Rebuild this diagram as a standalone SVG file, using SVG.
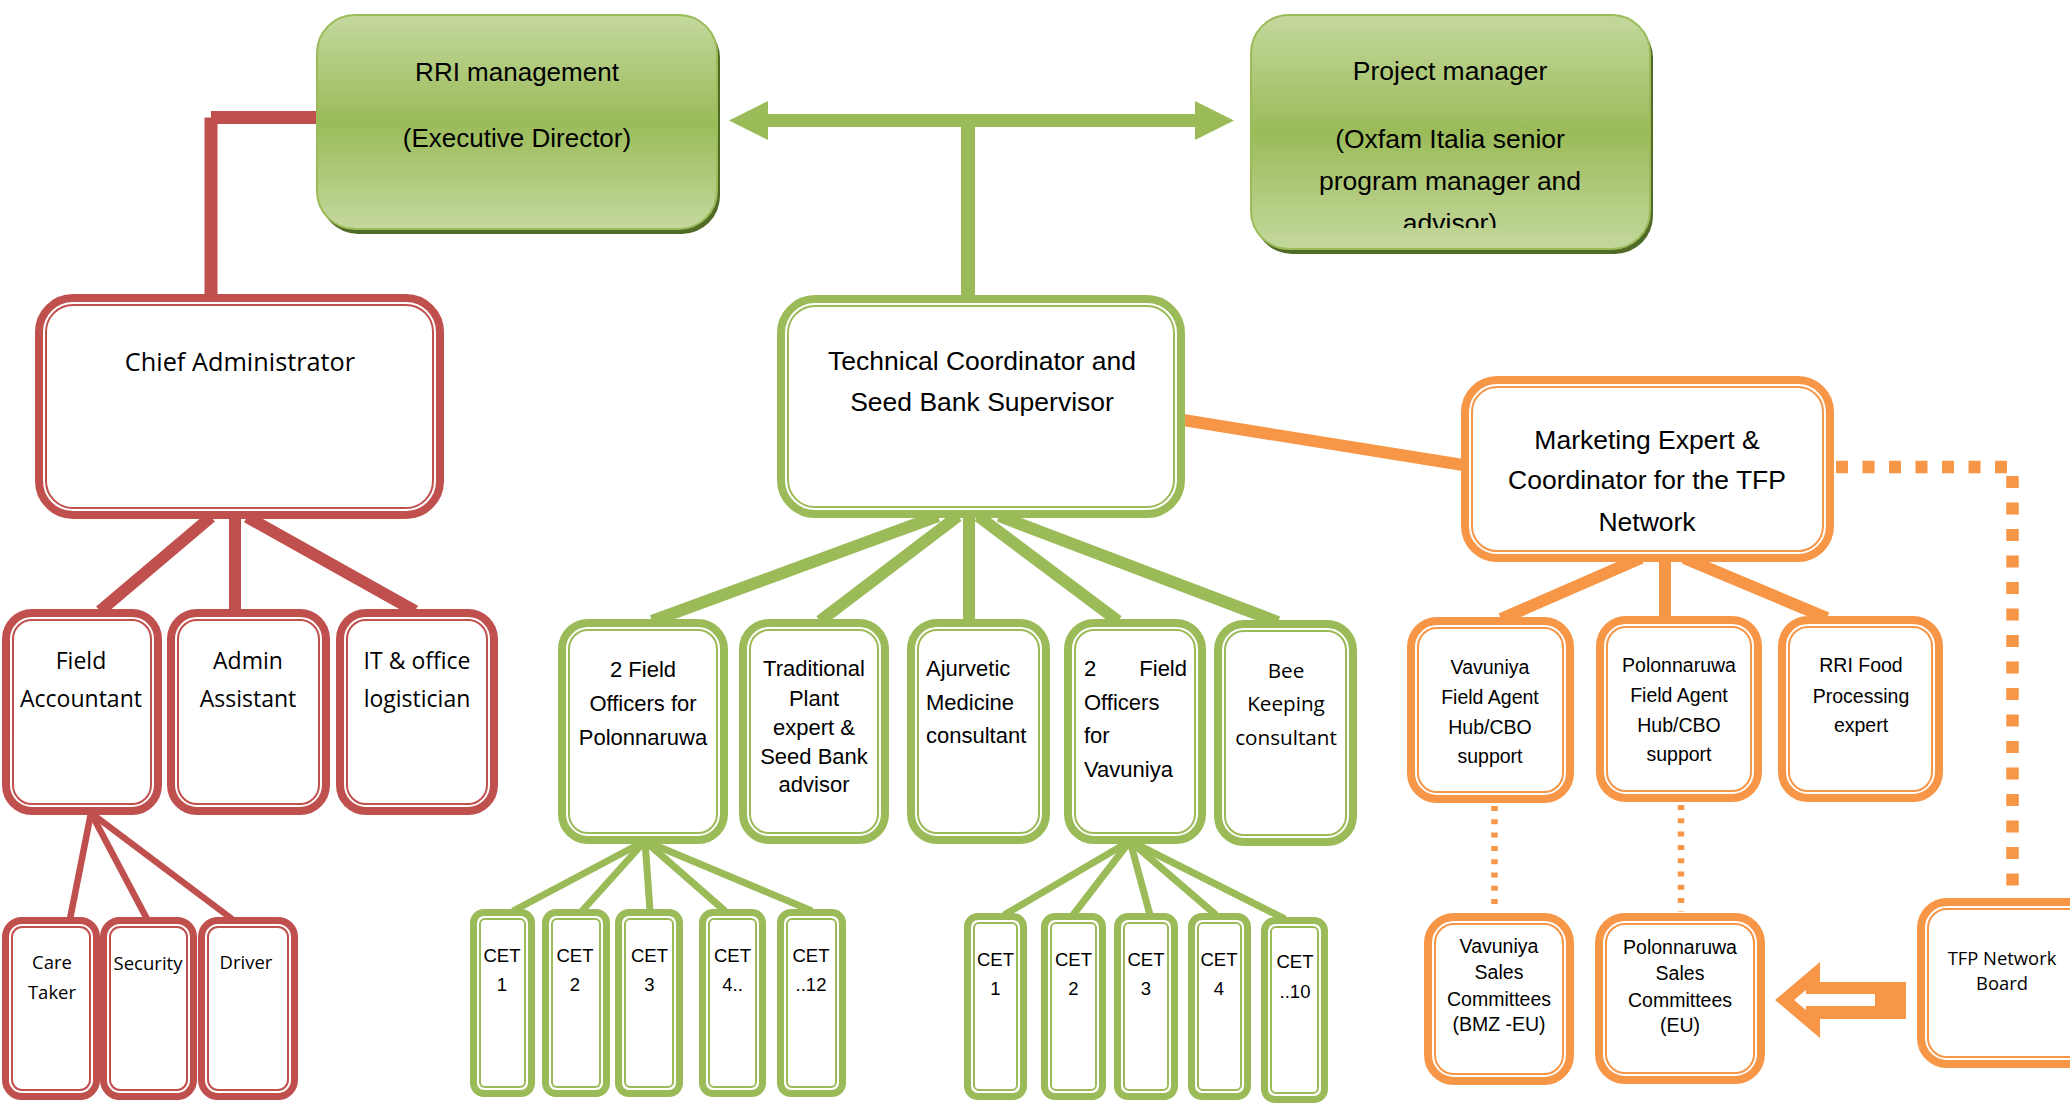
<svg xmlns="http://www.w3.org/2000/svg" width="2070" height="1112" viewBox="0 0 2070 1112">
<defs>
<linearGradient id="gg" x1="0" y1="0" x2="0" y2="1">
<stop offset="0" stop-color="#C4D89D"/>
<stop offset="0.5" stop-color="#9BBB59"/>
<stop offset="1" stop-color="#C4D89D"/>
</linearGradient>
<clipPath id="pmclip"><rect x="1251" y="15" width="399" height="213"/></clipPath>
<style>
.ro{fill:#fff;stroke:#C0504D;stroke-width:8}
.ri{fill:none;stroke:#C0504D;stroke-width:2}
.go{fill:#fff;stroke:#9BBB59;stroke-width:8}
.gi{fill:none;stroke:#9BBB59;stroke-width:2}
.oo{fill:#fff;stroke:#F79646;stroke-width:8}
.oi{fill:none;stroke:#F79646;stroke-width:2}
.t7{stroke-width:7}
.top{fill:url(#gg);stroke:#9BBB59;stroke-width:2}
.sh{fill:#506B26}
.c{font-family:"Liberation Sans",Arial,sans-serif;fill:#000;text-anchor:middle}
.cl{font-family:"Liberation Sans",Arial,sans-serif;fill:#000}
.s{font-family:"Open Sans","Noto Sans",sans-serif;fill:#000;text-anchor:middle}
.cet{font-family:"Liberation Sans",Arial,sans-serif;fill:#000;text-anchor:middle;font-size:18.5px}
.lr{stroke:#C0504D;fill:none}
.lg{stroke:#9BBB59;fill:none}
.lo{stroke:#F79646;fill:none}
</style>
</defs>
<rect width="2070" height="1112" fill="#fff"/>

<g id="connectors">
<line class="lr" x1="317" y1="117.5" x2="211" y2="117.5" stroke-width="13"/>
<line class="lr" x1="211" y1="117.5" x2="211" y2="296" stroke-width="13"/>
<line class="lr" x1="211" y1="517" x2="100" y2="611" stroke-width="12"/>
<line class="lr" x1="235" y1="517" x2="235" y2="611" stroke-width="12"/>
<line class="lr" x1="247" y1="517" x2="415" y2="611" stroke-width="12"/>
<line class="lr" x1="91" y1="813" x2="70" y2="919" stroke-width="6.5"/>
<line class="lr" x1="91" y1="813" x2="147" y2="919" stroke-width="6.5"/>
<line class="lr" x1="91" y1="813" x2="232" y2="919" stroke-width="6.5"/>
<line class="lg" x1="766" y1="120.5" x2="1197" y2="120.5" stroke-width="13"/>
<polygon fill="#9BBB59" points="729,120.5 768,101 768,140"/>
<polygon fill="#9BBB59" points="1234,120.5 1195,101 1195,140"/>
<line class="lg" x1="968" y1="120" x2="968" y2="297" stroke-width="14"/>
<line class="lg" x1="938" y1="516" x2="652" y2="621" stroke-width="12"/>
<line class="lg" x1="958" y1="516" x2="820" y2="621" stroke-width="12"/>
<line class="lg" x1="969" y1="516" x2="969" y2="621" stroke-width="12"/>
<line class="lg" x1="978" y1="516" x2="1118" y2="621" stroke-width="12"/>
<line class="lg" x1="999" y1="516" x2="1278" y2="622" stroke-width="12"/>
<line class="lg" x1="645" y1="841" x2="513" y2="911" stroke-width="7"/>
<line class="lg" x1="645" y1="841" x2="582" y2="911" stroke-width="7"/>
<line class="lg" x1="645" y1="841" x2="650" y2="911" stroke-width="7"/>
<line class="lg" x1="645" y1="841" x2="725" y2="911" stroke-width="7"/>
<line class="lg" x1="645" y1="841" x2="812" y2="911" stroke-width="7"/>
<line class="lg" x1="1130" y1="841" x2="1004" y2="915" stroke-width="7"/>
<line class="lg" x1="1130" y1="841" x2="1073" y2="915" stroke-width="7"/>
<line class="lg" x1="1130" y1="841" x2="1150" y2="915" stroke-width="7"/>
<line class="lg" x1="1130" y1="841" x2="1216" y2="915" stroke-width="7"/>
<line class="lg" x1="1130" y1="841" x2="1285" y2="919" stroke-width="7"/>
<line class="lo" x1="1183" y1="420" x2="1463" y2="465" stroke-width="12"/>
<line class="lo" x1="1641" y1="558" x2="1501" y2="619" stroke-width="12"/>
<line class="lo" x1="1665" y1="558" x2="1665" y2="618" stroke-width="12"/>
<line class="lo" x1="1684" y1="558" x2="1827" y2="618" stroke-width="12"/>
<polyline class="lo" points="1836,467 2012.5,467 2012.5,900" stroke-width="12.5" stroke-dasharray="12 14.5"/>
<line class="lo" x1="1494.5" y1="806" x2="1494.5" y2="912" stroke-width="6.5" stroke-dasharray="5 8.3"/>
<line class="lo" x1="1681" y1="805" x2="1681" y2="912" stroke-width="6.5" stroke-dasharray="5 8.3"/>
<polygon fill="#F79646" points="1775,1000 1820,962 1820,982 1906,982 1906,1019 1820,1019 1820,1038"/>
<polygon fill="#fff" points="1794,1000 1806,990 1806,994 1875,994 1875,1006 1806,1006 1806,1010"/>
</g>

<g id="rri-management">
<rect class="sh" x="320" y="20" width="400" height="214" rx="38"/>
<rect class="top" x="317" y="15" width="400" height="214" rx="38"/>
<text class="c" x="517" y="81" font-size="26">RRI management</text>
<text class="c" x="517" y="147" font-size="26">(Executive Director)</text>
</g>

<g id="project-manager">
<rect class="sh" x="1254" y="20" width="399" height="234" rx="38"/>
<rect class="top" x="1251" y="15" width="399" height="234" rx="38"/>
<g clip-path="url(#pmclip)">
<text class="c" x="1450" y="80" font-size="26.5">Project manager</text>
<text class="c" x="1450" y="148" font-size="26.5">(Oxfam Italia senior</text>
<text class="c" x="1450" y="190" font-size="26.5">program manager and</text>
<text class="c" x="1450" y="232" font-size="26.5">advisor)</text>
</g>
</g>

<g id="chief-administrator">
<rect class="ro" x="39" y="298" width="401" height="217" rx="34"/>
<rect class="ri" x="46" y="305" width="387" height="203" rx="27"/>
<text class="s" x="240" y="371" font-size="25.3">Chief Administrator</text>
</g>

<g id="field-accountant">
<rect class="ro" x="6" y="613" width="152" height="198" rx="26"/>
<rect class="ri" x="13" y="620" width="138" height="184" rx="19"/>
<text class="s" x="81" y="669" font-size="23">Field</text>
<text class="s" x="81" y="707" font-size="23">Accountant</text>
</g>

<g id="admin-assistant">
<rect class="ro" x="171" y="613" width="155" height="198" rx="26"/>
<rect class="ri" x="178" y="620" width="141" height="184" rx="19"/>
<text class="s" x="248" y="669" font-size="23">Admin</text>
<text class="s" x="248" y="707" font-size="23">Assistant</text>
</g>

<g id="it-office-logistician">
<rect class="ro" x="340" y="613" width="154" height="198" rx="26"/>
<rect class="ri" x="347" y="620" width="140" height="184" rx="19"/>
<text class="s" x="417" y="669" font-size="23">IT &amp; office</text>
<text class="s" x="417" y="707" font-size="23">logistician</text>
</g>

<g id="care-taker">
<rect class="ro t7" x="5.5" y="920.5" width="91" height="176" rx="16.5"/>
<rect class="ri" x="12" y="927" width="78" height="163" rx="10"/>
<text class="s" x="52" y="969" font-size="18.5">Care</text>
<text class="s" x="52" y="999" font-size="18.5">Taker</text>
</g>

<g id="security">
<rect class="ro t7" x="103.5" y="920.5" width="90" height="176" rx="16.5"/>
<rect class="ri" x="110" y="927" width="77" height="163" rx="10"/>
<text class="s" x="148" y="970" font-size="18.5">Security</text>
</g>

<g id="driver">
<rect class="ro t7" x="201.5" y="920.5" width="93" height="176" rx="16.5"/>
<rect class="ri" x="208" y="927" width="80" height="163" rx="10"/>
<text class="s" x="246" y="969" font-size="18.5">Driver</text>
</g>

<g id="technical-coordinator">
<rect class="go" x="781" y="299" width="400" height="215" rx="34"/>
<rect class="gi" x="788" y="306" width="386" height="201" rx="27"/>
<text class="c" x="982" y="370" font-size="26.5">Technical Coordinator and</text>
<text class="c" x="982" y="411" font-size="26.5">Seed Bank Supervisor</text>
</g>

<g id="field-officers-polonnaruwa">
<rect class="go" x="562" y="623" width="162" height="217" rx="26"/>
<rect class="gi" x="569" y="630" width="148" height="203" rx="19"/>
<text class="c" x="643" y="677" font-size="22">2 Field</text>
<text class="c" x="643" y="711" font-size="22">Officers for</text>
<text class="c" x="643" y="745" font-size="22">Polonnaruwa</text>
</g>

<g id="traditional-plant-expert">
<rect class="go" x="743" y="623" width="142" height="217" rx="26"/>
<rect class="gi" x="750" y="630" width="128" height="203" rx="19"/>
<text class="c" x="814" y="676" font-size="22">Traditional</text>
<text class="c" x="814" y="706" font-size="22">Plant</text>
<text class="c" x="814" y="735" font-size="22">expert &amp;</text>
<text class="c" x="814" y="764" font-size="22">Seed Bank</text>
<text class="c" x="814" y="792" font-size="22">advisor</text>
</g>

<g id="ajurvetic-medicine-consultant">
<rect class="go" x="911" y="623" width="135" height="217" rx="26"/>
<rect class="gi" x="918" y="630" width="121" height="203" rx="19"/>
<text class="cl" x="926" y="676" font-size="22">Ajurvetic</text>
<text class="cl" x="926" y="710" font-size="22">Medicine</text>
<text class="cl" x="926" y="743" font-size="22">consultant</text>
</g>

<g id="field-officers-vavuniya">
<rect class="go" x="1068" y="623" width="134" height="217" rx="26"/>
<rect class="gi" x="1075" y="630" width="120" height="203" rx="19"/>
<text class="cl" x="1084" y="676" font-size="22">2</text>
<text class="cl" x="1187" y="676" font-size="22" text-anchor="end">Field</text>
<text class="cl" x="1084" y="710" font-size="22">Officers</text>
<text class="cl" x="1084" y="743" font-size="22">for</text>
<text class="cl" x="1084" y="777" font-size="22">Vavuniya</text>
</g>

<g id="bee-keeping-consultant">
<rect class="go" x="1218" y="624" width="135" height="218" rx="26"/>
<rect class="gi" x="1225" y="631" width="121" height="204" rx="19"/>
<text class="s" x="1286" y="678" font-size="20.7">Bee</text>
<text class="s" x="1286" y="711" font-size="20.7">Keeping</text>
<text class="s" x="1286" y="745" font-size="20.7">consultant</text>
</g>

<g id="cet-pol-1">
<rect class="go t7" x="473.5" y="912.5" width="58" height="181" rx="10.5"/>
<rect class="gi" x="480" y="919" width="45" height="168" rx="5"/>
<text class="cet" x="502" y="962">CET</text>
<text class="cet" x="502" y="991">1</text>
</g>
<g id="cet-pol-2">
<rect class="go t7" x="545.5" y="912.5" width="61" height="181" rx="10.5"/>
<rect class="gi" x="552" y="919" width="48" height="168" rx="5"/>
<text class="cet" x="575" y="962">CET</text>
<text class="cet" x="575" y="991">2</text>
</g>
<g id="cet-pol-3">
<rect class="go t7" x="618.5" y="912.5" width="61" height="181" rx="10.5"/>
<rect class="gi" x="625" y="919" width="48" height="168" rx="5"/>
<text class="cet" x="649.5" y="962">CET</text>
<text class="cet" x="649.5" y="991">3</text>
</g>
<g id="cet-pol-4">
<rect class="go t7" x="702.5" y="912.5" width="60" height="181" rx="10.5"/>
<rect class="gi" x="709" y="919" width="47" height="168" rx="5"/>
<text class="cet" x="732.5" y="962">CET</text>
<text class="cet" x="732.5" y="991">4..</text>
</g>
<g id="cet-pol-12">
<rect class="go t7" x="780.5" y="912.5" width="62" height="181" rx="10.5"/>
<rect class="gi" x="787" y="919" width="49" height="168" rx="5"/>
<text class="cet" x="811" y="962">CET</text>
<text class="cet" x="811" y="991">..12</text>
</g>

<g id="cet-vav-1">
<rect class="go t7" x="967.5" y="916.5" width="56" height="180" rx="10.5"/>
<rect class="gi" x="974" y="923" width="43" height="167" rx="5"/>
<text class="cet" x="995.5" y="966">CET</text>
<text class="cet" x="995.5" y="995">1</text>
</g>
<g id="cet-vav-2">
<rect class="go t7" x="1044.5" y="916.5" width="58" height="180" rx="10.5"/>
<rect class="gi" x="1051" y="923" width="45" height="167" rx="5"/>
<text class="cet" x="1073.5" y="966">CET</text>
<text class="cet" x="1073.5" y="995">2</text>
</g>
<g id="cet-vav-3">
<rect class="go t7" x="1117.5" y="916.5" width="57" height="180" rx="10.5"/>
<rect class="gi" x="1124" y="923" width="44" height="167" rx="5"/>
<text class="cet" x="1146" y="966">CET</text>
<text class="cet" x="1146" y="995">3</text>
</g>
<g id="cet-vav-4">
<rect class="go t7" x="1191.5" y="916.5" width="56" height="180" rx="10.5"/>
<rect class="gi" x="1198" y="923" width="43" height="167" rx="5"/>
<text class="cet" x="1219" y="966">CET</text>
<text class="cet" x="1219" y="995">4</text>
</g>
<g id="cet-vav-10">
<rect class="go t7" x="1264.5" y="920.5" width="60" height="179" rx="10.5"/>
<rect class="gi" x="1271" y="927" width="47" height="166" rx="5"/>
<text class="cet" x="1295" y="968">CET</text>
<text class="cet" x="1295" y="998">..10</text>
</g>

<g id="marketing-expert">
<rect class="oo" x="1465" y="380" width="365" height="178" rx="32"/>
<rect class="oi" x="1472" y="387" width="351" height="164" rx="25"/>
<text class="c" x="1647" y="449" font-size="26.5">Marketing Expert &amp;</text>
<text class="c" x="1647" y="489" font-size="26.5">Coordinator for the TFP</text>
<text class="c" x="1647" y="531" font-size="26.5">Network</text>
</g>

<g id="vavuniya-field-agent">
<rect class="oo" x="1411" y="621" width="159" height="178" rx="26"/>
<rect class="oi" x="1418" y="628" width="145" height="164" rx="19"/>
<text class="c" x="1490" y="674" font-size="19.5">Vavuniya</text>
<text class="c" x="1490" y="704" font-size="19.5">Field Agent</text>
<text class="c" x="1490" y="734" font-size="19.5">Hub/CBO</text>
<text class="c" x="1490" y="763" font-size="19.5">support</text>
</g>

<g id="polonnaruwa-field-agent">
<rect class="oo" x="1600" y="620" width="158" height="178" rx="26"/>
<rect class="oi" x="1607" y="627" width="144" height="164" rx="19"/>
<text class="c" x="1679" y="672" font-size="19.5">Polonnaruwa</text>
<text class="c" x="1679" y="702" font-size="19.5">Field Agent</text>
<text class="c" x="1679" y="732" font-size="19.5">Hub/CBO</text>
<text class="c" x="1679" y="761" font-size="19.5">support</text>
</g>

<g id="rri-food-processing">
<rect class="oo" x="1782" y="620" width="157" height="178" rx="26"/>
<rect class="oi" x="1789" y="627" width="143" height="164" rx="19"/>
<text class="c" x="1861" y="672" font-size="19.5">RRI Food</text>
<text class="c" x="1861" y="703" font-size="19.5">Processing</text>
<text class="c" x="1861" y="732" font-size="19.5">expert</text>
</g>

<g id="vavuniya-sales">
<rect class="oo" x="1428" y="917" width="142" height="164" rx="26"/>
<rect class="oi" x="1435" y="924" width="128" height="150" rx="19"/>
<text class="c" x="1499" y="953" font-size="19.5">Vavuniya</text>
<text class="c" x="1499" y="979" font-size="19.5">Sales</text>
<text class="c" x="1499" y="1006" font-size="19.5">Committees</text>
<text class="c" x="1499" y="1031" font-size="19.5">(BMZ -EU)</text>
</g>

<g id="polonnaruwa-sales">
<rect class="oo" x="1599" y="917" width="162" height="163" rx="26"/>
<rect class="oi" x="1606" y="924" width="148" height="149" rx="19"/>
<text class="c" x="1680" y="954" font-size="19.5">Polonnaruwa</text>
<text class="c" x="1680" y="980" font-size="19.5">Sales</text>
<text class="c" x="1680" y="1007" font-size="19.5">Committees</text>
<text class="c" x="1680" y="1032" font-size="19.5">(EU)</text>
</g>

<g id="tfp-network-board">
<rect class="oo" x="1921" y="902" width="177" height="162" rx="26"/>
<rect class="oi" x="1928" y="909" width="163" height="148" rx="19"/>
<text class="s" x="2002" y="965" font-size="18.4">TFP Network</text>
<text class="s" x="2002" y="990" font-size="18.4">Board</text>
</g>
</svg>
